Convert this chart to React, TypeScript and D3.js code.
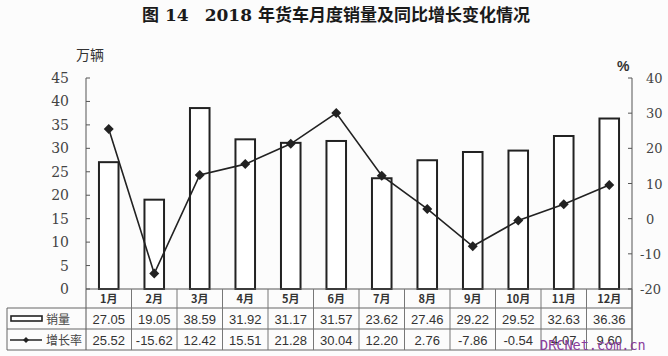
import React from "react";
import * as d3 from "d3";

const months = ["1月", "2月", "3月", "4月", "5月", "6月", "7月", "8月", "9月", "10月", "11月", "12月"];
const sales = [27.05, 19.05, 38.59, 31.92, 31.17, 31.57, 23.62, 27.46, 29.22, 29.52, 32.63, 36.36];
const growth = [25.52, -15.62, 12.42, 15.51, 21.28, 30.04, 12.2, 2.76, -7.86, -0.54, 4.07, 9.6];
const salesLabels = ["27.05", "19.05", "38.59", "31.92", "31.17", "31.57", "23.62", "27.46", "29.22", "29.52", "32.63", "36.36"];
const growthLabels = ["25.52", "-15.62", "12.42", "15.51", "21.28", "30.04", "12.20", "2.76", "-7.86", "-0.54", "4.07", "9.60"];
const leftTicks = [0, 5, 10, 15, 20, 25, 30, 35, 40, 45];
const rightTicks = [-20, -10, 0, 10, 20, 30, 40];

const W = 668, H = 356;
const plotL = 86, plotR = 632, plotT = 78, plotB = 289;
const row1 = 308, row2 = 329, row3 = 350;
const tableL = 7;

export default function App() {
  const x = d3.scaleBand<string>().domain(months).range([plotL, plotR]).paddingInner(0).paddingOuter(0);
  const yL = d3.scaleLinear().domain([0, 45]).range([plotB, plotT]);
  const yR = d3.scaleLinear().domain([-20, 40]).range([plotB, plotT]);
  const bw = x.bandwidth() * 0.43;
  const line = d3.line<number>().x((_, i) => x(months[i])! + x.bandwidth() / 2).y((d) => yR(d));
  const ink = "#222";
  const diamond = (cx: number, cy: number, r: number) => `M${cx},${cy - r}L${cx + r},${cy}L${cx},${cy + r}L${cx - r},${cy}Z`;
  const sansTxt = "'Liberation Sans', Arial, sans-serif";
  const serif = "'DejaVu Serif', serif";
  const cjk = "'Noto Sans CJK SC', sans-serif";

  return (
    <svg width={W} height={H} style={{ position: "absolute", left: 0, top: 0, background: "#fcfcfc" }}>
      <rect x={0} y={0} width={W} height={H} fill="#fcfcfc" />
      {/* title */}
      <text x={336} y={21} textAnchor="middle" fontSize={17} fontWeight="bold" fill="#1a1a1a" fontFamily={`'DejaVu Serif', ${cjk}`}>
        <tspan fontFamily={cjk}>图</tspan>
        <tspan> 14</tspan>
        <tspan dx={16}>2018 </tspan>
        <tspan fontFamily={cjk}>年货车月度销量及同比增长变化情况</tspan>
      </text>
      <text x={76} y={60} fontSize={14} fill="#333" fontFamily={cjk}>万辆</text>
      <text x={617} y={71} fontSize={14} fill="#333" fontFamily={sansTxt} fontWeight="bold">%</text>

      {/* left axis */}
      <line x1={plotL} x2={plotL} y1={plotT} y2={row3} stroke="#555" strokeWidth={1} />
      {leftTicks.map((t) => (
        <g key={"l" + t}>
          <line x1={plotL} x2={plotL + 4} y1={yL(t)} y2={yL(t)} stroke="#555" />
          <text x={69} y={yL(t) + 5} textAnchor="end" fontSize={14} fill="#444" fontFamily={serif}>{t}</text>
        </g>
      ))}
      {/* right axis */}
      <line x1={plotR} x2={plotR} y1={plotT} y2={row3} stroke="#555" strokeWidth={1} />
      {rightTicks.map((t) => (
        <g key={"r" + t}>
          <line x1={plotR - 4} x2={plotR} y1={yR(t)} y2={yR(t)} stroke="#555" />
          <text x={t < 0 ? 640 : 646} y={yR(t) + 5} textAnchor="start" fontSize={13} fill="#444" fontFamily={serif}>
            {t < 0 ? "-" + Math.abs(t) : t}
          </text>
        </g>
      ))}

      {/* bars */}
      {sales.map((v, i) => (
        <rect key={"b" + i} x={x(months[i])! + (x.bandwidth() - bw) / 2} y={yL(v)} width={bw} height={plotB - yL(v)}
          fill="#fff" stroke={ink} strokeWidth={2} />
      ))}

      {/* line */}
      <path d={line(growth)!} fill="none" stroke={ink} strokeWidth={1.6} />
      {growth.map((v, i) => (
        <path key={"d" + i} d={diamond(x(months[i])! + x.bandwidth() / 2, yR(v), 5)} fill={ink} />
      ))}

      {/* table grid */}
      <line x1={plotL} x2={plotR} y1={plotB} y2={plotB} stroke="#555" />
      {[row1, row2, row3].map((yy) => (
        <line key={"h" + yy} x1={tableL} x2={plotR} y1={yy} y2={yy} stroke="#666" />
      ))}
      <line x1={tableL} x2={tableL} y1={row1} y2={row3} stroke="#666" />
      {months.map((m, i) => (
        <line key={"v" + i} x1={x(m)! + x.bandwidth()} x2={x(m)! + x.bandwidth()} y1={plotB} y2={row3} stroke="#777" />
      ))}
      {months.map((m, i) => (
        <g key={"t" + i}>
          <text x={x(m)! + x.bandwidth() / 2} y={plotB + 14} textAnchor="middle" fontSize={11} fontWeight="bold" fill="#333" fontFamily={cjk}>{m}</text>
          <text x={x(m)! + x.bandwidth() / 2} y={row1 + 16} textAnchor="middle" fontSize={13} fill="#333" fontFamily={sansTxt}>{salesLabels[i]}</text>
          <text x={x(m)! + x.bandwidth() / 2} y={row2 + 16} textAnchor="middle" fontSize={13} fill="#333" fontFamily={sansTxt}>{growthLabels[i]}</text>
        </g>
      ))}
      {/* legend cells */}
      <rect x={11} y={316} width={31} height={5} fill="#fff" stroke={ink} strokeWidth={1.6} />
      <text x={46} y={324} fontSize={12} fill="#444" fontFamily={cjk}>销量</text>
      <line x1={10} x2={42} y1={340} y2={340} stroke={ink} strokeWidth={1.5} />
      <path d={diamond(26, 340, 3)} fill={ink} />
      <text x={46} y={345} fontSize={12} fill="#444" fontFamily={cjk}>增长率</text>

      {/* watermark */}
      <text x={540} y={350} fontSize={13.5} fill="#8a3c9c" fontFamily="'DejaVu Sans Mono', monospace">DRCNet.com.cn</text>
    </svg>
  );
}
